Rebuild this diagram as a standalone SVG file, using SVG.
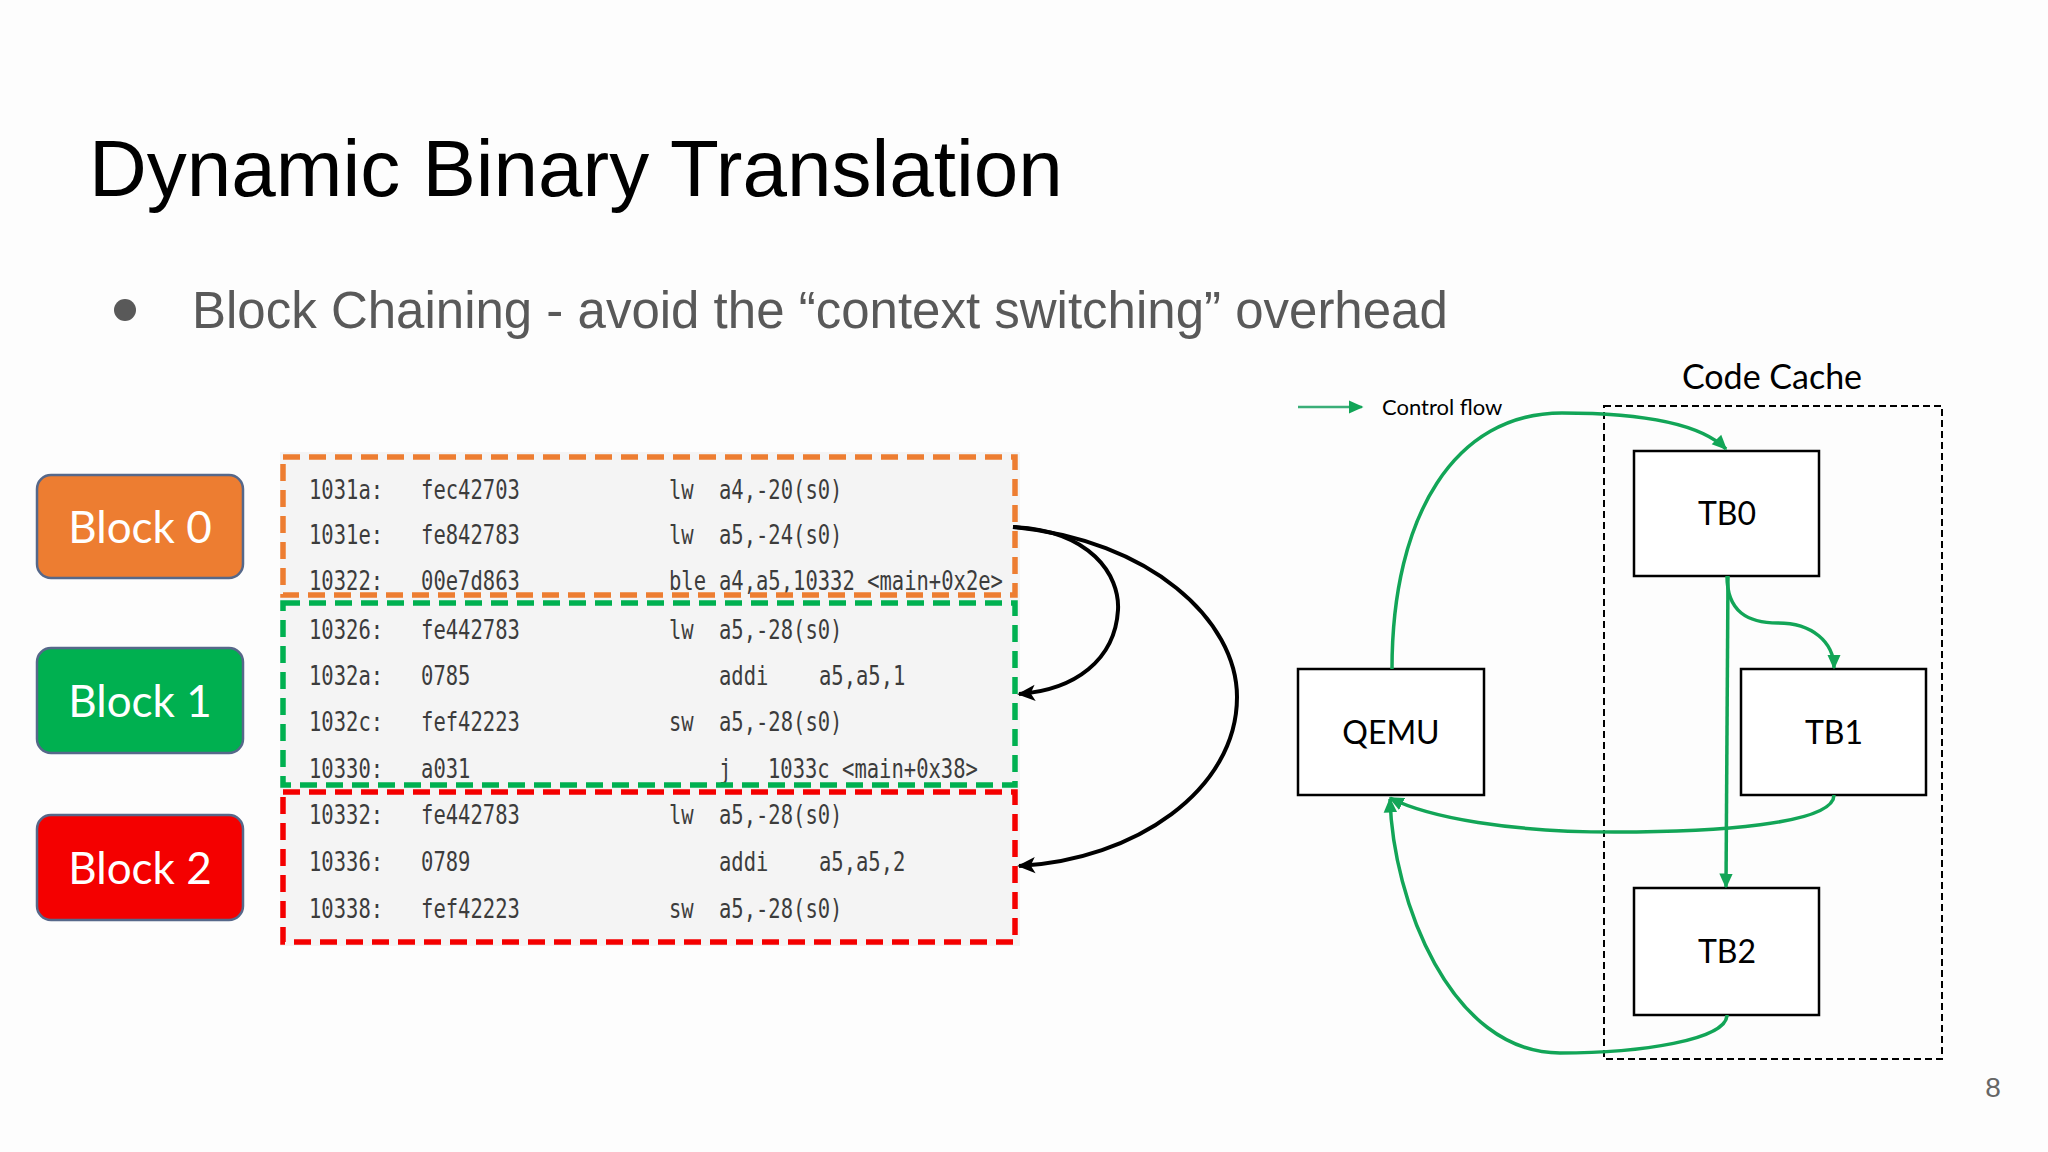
<svg xmlns="http://www.w3.org/2000/svg" width="2048" height="1152" viewBox="0 0 2048 1152">
  <style>
    .title { font-family: "Liberation Sans", Arial, sans-serif; font-size: 80px; fill: #000; }
    .bullet { font-family: "Liberation Sans", Arial, sans-serif; font-size: 51px; fill: #595959; }
    .blk rect { stroke: #56688a; stroke-width: 2.5; }
    .blk text { font-family: Lato, "Open Sans", sans-serif; font-size: 44px; fill: #fff; text-anchor: middle; }
    .code text { font-family: "DejaVu Sans Mono", "Liberation Mono", monospace; font-size: 27px; fill: #3c3c3c; }
    .dash { fill: none; stroke-width: 5.5; stroke-dasharray: 17 9; }
    .node rect { fill: #fff; stroke: #000; stroke-width: 2.5; }
    .node text, .lbl { font-family: Lato, "Open Sans", sans-serif; fill: #000; text-anchor: middle; }
    .node text { font-size: 32px; }
    .blackarrow { fill: none; stroke: #000; stroke-width: 4; marker-end: url(#ahb); }
    .greenarrow { fill: none; stroke: #12a557; stroke-width: 3.5; marker-end: url(#ahg); }
  </style>
  <defs>
    <marker id="ahb" viewBox="0 0 10 10" refX="9" refY="5" markerWidth="18" markerHeight="18" markerUnits="userSpaceOnUse" orient="auto">
      <path d="M0,0.5 L10,5 L0,9.5 L2.5,5 z" fill="#000"/>
    </marker>
    <marker id="ahg" viewBox="0 0 10 10" refX="9" refY="5" markerWidth="15" markerHeight="15" markerUnits="userSpaceOnUse" orient="auto">
      <path d="M0,0.5 L10,5 L0,9.5 z" fill="#12a557"/>
    </marker>
  </defs>

  <rect x="0" y="0" width="2048" height="1152" fill="#fdfdfd"/>

  <text class="title" x="89" y="196">Dynamic Binary Translation</text>
  <circle cx="125" cy="310" r="11" fill="#595959"/>
  <text class="bullet" x="192" y="328">Block Chaining - avoid the “context switching” overhead</text>

  <!-- Block labels -->
  <g id="block0" class="blk">
    <rect x="37" y="475" width="206" height="103" rx="14" fill="#ed7d31"/>
    <text x="140" y="543">Block 0</text>
  </g>
  <g id="block1" class="blk">
    <rect x="37" y="648" width="206" height="105" rx="14" fill="#00b050"/>
    <text x="140" y="717">Block 1</text>
  </g>
  <g id="block2" class="blk">
    <rect x="37" y="815" width="206" height="105" rx="14" fill="#f40000"/>
    <text x="140" y="884">Block 2</text>
  </g>

  <!-- Code listing -->
  <rect x="280" y="452" width="740" height="494" fill="#f4f4f4"/>
  <g id="code" class="code" transform="scale(0.76 1)">
    <text x="406.6" y="499">1031a:</text><text x="554" y="499">fec42703</text><text x="880.3" y="499">lw</text><text x="946" y="499">a4,-20(s0)</text>
    <text x="406.6" y="544">1031e:</text><text x="554" y="544">fe842783</text><text x="880.3" y="544">lw</text><text x="946" y="544">a5,-24(s0)</text>
    <text x="406.6" y="590">10322:</text><text x="554" y="590">00e7d863</text><text x="880.3" y="590">ble</text><text x="946" y="590">a4,a5,10332 &lt;main+0x2e&gt;</text>
    <text x="406.6" y="639">10326:</text><text x="554" y="639">fe442783</text><text x="880.3" y="639">lw</text><text x="946" y="639">a5,-28(s0)</text>
    <text x="406.6" y="685">1032a:</text><text x="554" y="685">0785</text><text x="946" y="685">addi</text><text x="1077.6" y="685">a5,a5,1</text>
    <text x="406.6" y="731">1032c:</text><text x="554" y="731">fef42223</text><text x="880.3" y="731">sw</text><text x="946" y="731">a5,-28(s0)</text>
    <text x="406.6" y="778">10330:</text><text x="554" y="778">a031</text><text x="946" y="778">j</text><text x="1010.5" y="778">1033c &lt;main+0x38&gt;</text>
    <text x="406.6" y="824">10332:</text><text x="554" y="824">fe442783</text><text x="880.3" y="824">lw</text><text x="946" y="824">a5,-28(s0)</text>
    <text x="406.6" y="871">10336:</text><text x="554" y="871">0789</text><text x="946" y="871">addi</text><text x="1077.6" y="871">a5,a5,2</text>
    <text x="406.6" y="918">10338:</text><text x="554" y="918">fef42223</text><text x="880.3" y="918">sw</text><text x="946" y="918">a5,-28(s0)</text>
  </g>
  <g id="code-blocks">
    <rect class="dash" x="283" y="457" width="732" height="138" stroke="#ed7d31"/>
    <rect class="dash" x="283" y="603" width="732" height="182" stroke="#00b050"/>
    <rect class="dash" x="283" y="792" width="732" height="150" stroke="#f40000"/>
  </g>

  <!-- Right diagram -->
  <g id="legend">
    <line x1="1298" y1="407" x2="1362" y2="407" stroke="#3aae78" stroke-width="2.5" marker-end="url(#ahg)"/>
    <text class="lbl" x="1382" y="415" style="font-size:22px;text-anchor:start">Control flow</text>
  </g>
  <g id="code-cache">
    <rect x="1604" y="406" width="338" height="653" fill="none" stroke="#000" stroke-width="2" stroke-dasharray="7 4"/>
    <text class="lbl" x="1772" y="389" style="font-size:34px">Code Cache</text>
  </g>
  <g id="tb0" class="node">
    <rect x="1634" y="451" width="185" height="125"/>
    <text x="1727" y="525">TB0</text>
  </g>
  <g id="tb1" class="node">
    <rect x="1741" y="669" width="185" height="126"/>
    <text x="1834" y="744">TB1</text>
  </g>
  <g id="qemu" class="node">
    <rect x="1298" y="669" width="186" height="126"/>
    <text x="1391" y="744">QEMU</text>
  </g>
  <g id="tb2" class="node">
    <rect x="1634" y="888" width="185" height="127"/>
    <text x="1727" y="963">TB2</text>
  </g>

  <g id="connectors">
    <path class="blackarrow" d="M1013,527 C1090,530 1120,575 1118,610 C1115,660 1075,690 1019,694"/>
    <path class="blackarrow" d="M1013,527 C1150,540 1237,620 1237,697 C1237,790 1135,860 1019,866"/>
    <path class="greenarrow" d="M1392,669 C1392,515 1455,413 1562,413 C1640,413 1700,423 1726,449"/>
    <path class="greenarrow" d="M1728,576 L1726,887"/>
    <path class="greenarrow" d="M1727,576 C1727,612 1748,623 1778,623 C1812,623 1834,642 1834,668"/>
    <path class="greenarrow" d="M1834,795 C1834,825 1710,832 1615,832 C1510,832 1430,818 1390,798"/>
    <path class="greenarrow" d="M1727,1015 C1727,1040 1640,1053 1560,1053 C1450,1053 1393,900 1390,799"/>
  </g>

  <text x="1993" y="1097" style="font-family:'Liberation Sans',Arial,sans-serif;font-size:28px;fill:#666;text-anchor:middle">8</text>
</svg>
